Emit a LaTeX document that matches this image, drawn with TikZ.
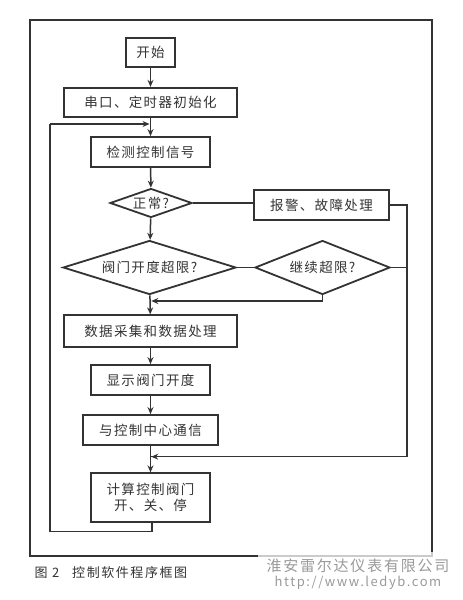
\documentclass[tikz,border=0pt]{standalone}
\usepackage{fontspec}
\setmainfont{Noto Sans CJK SC}
\usetikzlibrary{shapes.geometric,arrows.meta}
\definecolor{ink}{HTML}{333333}
\definecolor{wm}{HTML}{9A9A9A}
\tikzset{
  txt/.style={text=ink,font=\fontsize{13.5}{16}\selectfont\addfontfeature{LetterSpace=10}},
  box/.style={txt,draw=ink,line width=1.8pt,rectangle,inner sep=0pt,align=center},
  dia/.style={txt,draw=ink,line width=1.8pt,diamond,inner sep=0pt},
  link/.style={draw=ink,line width=1.5pt},
  arr/.style={link,-{Stealth[length=7pt,width=6pt]}}
}
\begin{document}
\begin{tikzpicture}[x=1pt,y=-1pt]
\useasboundingbox (0,0) rectangle (463,600);
% outer frame
\draw[ink,line width=1.6pt] (30,20) rectangle (432,556);
% nodes
\node[box,minimum width=49pt,minimum height=29pt] (start) at (150.5,52.5) {开始};
\node[box,minimum width=173pt,minimum height=29.5pt] (init) at (150.5,102.5) {串口、定时器初始化};
\node[box,minimum width=119pt,minimum height=30pt] (detect) at (150.5,152) {检测控制信号};
\node[dia,aspect=2.9,minimum width=82pt,minimum height=29pt] (normal) at (151,203) {正常?};
\node[box,minimum width=135pt,minimum height=30pt] (alarm) at (321.5,205) {报警、故障处理};
\node[dia,aspect=3.2,minimum width=173pt,minimum height=54pt] (over) at (149.5,267.5) {阀门开度超限?};
\node[dia,aspect=2.5,minimum width=135pt,minimum height=54pt] (cont) at (322.5,267.5) {继续超限?};
\node[box,minimum width=173pt,minimum height=31.5pt] (data) at (150.5,331) {数据采集和数据处理};
\node[box,minimum width=119pt,minimum height=30pt] (show) at (150.5,380) {显示阀门开度};
\node[box,minimum width=135.5pt,minimum height=30pt] (comm) at (150.5,430) {与控制中心通信};
\node[box,minimum width=119pt,minimum height=48.5pt] (calc) at (150.5,497.5) {计算控制阀门\\开、关、停};
% joint coordinates
\coordinate (j1) at (150.5,124);
\coordinate (j2) at (150.5,301);
\coordinate (j3) at (150.5,456.7);
\coordinate (rr) at (407,205);
\coordinate (lb) at (50,531.7);
% connectors
\draw[arr] (start) -- (init);
\draw[arr] (init) -- (detect);
\draw[arr] (detect) -- (normal);
\draw[arr] (normal) -- (over);
\draw[arr] (over) -- (data);
\draw[arr] (data) -- (show);
\draw[arr] (show) -- (comm);
\draw[arr] (comm) -- (calc);
\draw[link] (normal.east) -- (normal.east -| alarm.west);
\draw[link] (over.east) -- (cont.west);
\draw[link] (alarm.east |- rr) -- (rr) -- (rr |- j3) -- (j3);
\draw[arr] (rr |- j3) -- ([xshift=0.8pt]j3);
\draw[link] (cont.east) -- (cont.east -| rr);
\draw[link] (cont.south) -- (cont.south |- j2);
\draw[arr] (cont.south |- j2) -- ([xshift=0.8pt]j2);
\draw[link] ([xshift=1.5pt]calc.south) -- ([xshift=1.5pt]calc.south |- lb) -- (lb) -- (lb |- j1);
\draw[arr] (lb |- j1) -- ([xshift=-1pt]j1);
% caption
\node[text=ink,font=\fontsize{13}{15}\selectfont\addfontfeature{LetterSpace=12},anchor=west] (cap) at (31,573) {图 2\quad 控制软件程序框图};
% watermark
\fill[white,opacity=0.75] (258,552) rectangle (463,596);
\node[text=wm,font=\fontsize{15}{17}\selectfont\addfontfeature{LetterSpace=12},anchor=center] (wm1) at (358,566) {淮安雷尔达仪表有限公司};
\node[text=wm,font=\fontsize{13}{15}\selectfont\addfontfeature{LetterSpace=12},anchor=center] (wm2) at (358,583) {http://www.ledyb.com};
\end{tikzpicture}
\end{document}
